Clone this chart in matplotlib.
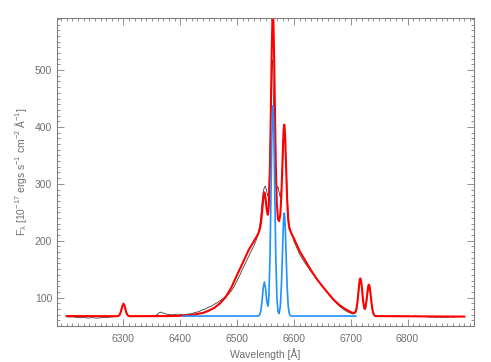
import matplotlib
matplotlib.use("Agg")
import matplotlib.pyplot as plt
from matplotlib.ticker import MultipleLocator

plt.rcParams['font.family'] = ['Liberation Sans', 'DejaVu Sans']
plt.rcParams['mathtext.default'] = 'regular'

# observed spectrum (thin dark line)
gray_wave = (list(range(6200, 6290, 5))
             + [6290, 6293, 6296, 6298, 6300, 6302, 6304, 6306, 6309, 6312]
             + [6315, 6320, 6325, 6330, 6335, 6340, 6345, 6350, 6355, 6360, 6363, 6366,
                6369, 6372, 6375, 6380, 6385, 6390, 6395, 6400, 6405, 6410, 6415, 6420,
                6425, 6430, 6435, 6440, 6445, 6450, 6455, 6460, 6465, 6470, 6475, 6480,
                6485, 6490, 6495, 6500, 6505, 6510, 6515, 6520, 6525, 6530, 6534, 6537]
             + [6540, 6542, 6544, 6546, 6548, 6550, 6552, 6554, 6556, 6558, 6560, 6561,
                6562, 6563, 6564, 6565, 6566, 6568, 6570, 6572, 6574, 6576, 6578, 6580,
                6582, 6583, 6584, 6586, 6588, 6590, 6592, 6594, 6597]
             + [6600, 6605, 6610, 6615, 6620, 6625, 6630, 6635, 6640, 6645, 6650, 6655,
                6660, 6665, 6670, 6675, 6680, 6685, 6690, 6695, 6700, 6704, 6708, 6710,
                6712, 6714, 6716, 6717, 6718, 6720, 6722, 6724, 6726, 6728, 6730, 6732,
                6734, 6736, 6738, 6740, 6743]
             + list(range(6745, 6905, 5)))
gray_flux = ([66.5, 65.8, 66.2, 65.4, 65.0, 64.6, 65.2, 64.3, 64.0, 64.8, 64.2, 63.9,
              64.5, 65.3, 64.7, 65.6, 66.0, 66.4]
             + [67.0, 69.5, 76.5, 84.0, 88.0, 86.0, 78.0, 71.5, 68.0, 66.8]
             + [66.4, 67.2, 66.8, 67.5, 66.9, 67.3, 67.8, 67.2, 68.0, 70.5, 73.5, 74.5,
                73.0, 72.2, 71.0, 70.4, 69.6, 70.2, 69.5, 70.0, 69.8, 70.5, 71.0, 71.8,
                73.5, 74.6, 76.5, 78.8, 80.2, 83.5, 85.0, 88.2, 91.0, 94.5, 98.0, 102.5,
                106.0, 112.0, 120.0, 130.0, 140.0, 151.0, 161.0, 172.0, 182.0, 192.0, 202.0, 212.0]
             + [228, 245, 268, 286, 294, 296, 287, 278, 290, 345, 470, 512,
                518, 495, 440, 380, 330, 300, 292, 295, 285, 276, 292, 338,
                376, 388, 382, 342, 288, 246, 227, 219, 209]
             + [199, 188, 176, 168, 160, 153, 146, 140, 133, 127, 120, 114,
                107, 101, 95, 90, 85, 81, 77.5, 74.5, 72.5, 71.0, 72.5, 77.0,
                90.0, 111.0, 126.0, 129.0, 127.0, 111.0, 91.0, 79.0, 80.0, 93.0, 110.0, 118.0,
                111.0, 94.0, 78.0, 70.0, 67.5]
             + [67.8, 67.2, 68.0, 67.5, 67.9, 67.3, 67.8, 68.1, 67.4, 67.6, 67.0, 67.5,
                66.9, 67.4, 67.8, 67.1, 66.5, 67.0, 66.2, 65.6, 66.0, 65.3, 65.8, 65.1,
                65.7, 65.0, 66.2, 65.5, 66.4, 66.0, 66.8, 66.5])

# total model fit (red)
red_wave = [6200, 6250, 6288, 6290, 6292, 6294, 6296, 6298, 6300, 6302, 6304, 6306,
            6308, 6310, 6312, 6350, 6380, 6400, 6420, 6440, 6450, 6460, 6470, 6480,
            6490, 6500, 6510, 6520, 6530, 6536, 6538, 6540, 6542, 6544, 6546, 6548,
            6550, 6552, 6554, 6555, 6556, 6558, 6560, 6561, 6562, 6563, 6564, 6565,
            6566, 6568, 6570, 6572, 6574, 6576, 6578, 6580, 6581, 6582, 6583, 6584,
            6585, 6586, 6588, 6590, 6592, 6594, 6596, 6600, 6610, 6620, 6630, 6640,
            6650, 6660, 6670, 6680, 6690, 6700, 6704, 6706, 6708, 6710, 6712, 6714,
            6715, 6716, 6717, 6718, 6719, 6720, 6722, 6724, 6725, 6726, 6728, 6730,
            6731, 6732, 6733, 6734, 6736, 6738, 6740, 6742, 6744, 6746, 6800, 6850, 6900]
red_flux = [67.5, 67.4, 67.3, 67.5, 68.3, 71.1, 77.4, 85.4, 89.3, 85.4, 77.4, 71.1,
            68.3, 67.5, 67.3, 67.4, 67.5, 68.0, 69.5, 73.0, 77.0, 82.0, 90.0, 101.0,
            118.0, 140.0, 161.0, 183.0, 200.0, 210.0, 214.5, 220.6, 231.4, 250.5, 273.4, 285.0,
            275.5, 255.5, 245.5, 249.8, 265.5, 338.5, 468.7, 534.5, 582.2, 600.0, 582.2, 534.5,
            468.7, 339.2, 263.9, 237.6, 234.5, 245.7, 281.4, 342.7, 374.0, 396.3, 404.0, 394.3,
            371.0, 337.7, 273.4, 235.6, 221.5, 216.5, 212.0, 204.0, 182.0, 165.0, 148.0, 133.0,
            120.0, 108.0, 96.0, 87.0, 80.0, 74.5, 73.1, 73.0, 74.4, 79.7, 93.7, 114.7,
            124.8, 131.4, 133.7, 130.9, 123.9, 113.8, 92.6, 81.2, 80.4, 83.1, 97.1, 114.7,
            120.7, 122.8, 120.6, 114.4, 96.2, 80.2, 71.5, 68.4, 67.5, 67.4, 67.1, 66.8, 66.6]

# narrow-line component (blue)
blue_wave = [6405, 6536, 6538, 6540, 6542, 6544, 6546, 6548, 6550, 6552, 6554, 6555,
             6556, 6558, 6560, 6561, 6562, 6563, 6564, 6565, 6566, 6568, 6570, 6572,
             6574, 6576, 6578, 6580, 6581, 6582, 6583, 6584, 6585, 6586, 6588, 6590,
             6592, 6594, 6596, 6709]
blue_flux = [67.5, 67.5, 68.0, 70.1, 77.9, 95.0, 116.9, 127.5, 117.0, 96.0, 85.0, 89.3,
             104.0, 177.0, 306.2, 372.0, 419.7, 437.5, 419.7, 372.0, 306.2, 176.7, 101.4, 75.1,
             72.0, 84.2, 120.9, 184.2, 216.5, 239.8, 248.5, 239.8, 216.5, 184.2, 120.9, 84.1,
             71.0, 68.0, 67.5, 67.5]

x_ticks = [6300, 6400, 6500, 6600, 6700, 6800]
y_ticks = [100, 200, 300, 400, 500]

axis_col = '#808080'
text_col = '#707070'

fig = plt.figure(figsize=(4.91, 3.62), dpi=100)
ax = fig.add_axes([0.1161, 0.0994, 0.8493, 0.85])

ax.plot(gray_wave, gray_flux, color='#404040', lw=0.6)
ax.plot(red_wave, red_flux, color='#ff0000', lw=1.5)
ax.plot(blue_wave, blue_flux, color='#1e90ff', lw=1.2)

ax.set_xlim(6183, 6917)
ax.set_ylim(50, 591)
ax.set_xticks(x_ticks)
ax.set_yticks(y_ticks)
ax.xaxis.set_minor_locator(MultipleLocator(10))
ax.yaxis.set_minor_locator(MultipleLocator(10))
ax.tick_params(which='both', direction='in', top=True, right=True,
               color=axis_col, width=0.6, labelcolor=text_col, labelsize=7.5)
ax.tick_params(which='major', length=5)
ax.tick_params(which='minor', length=2.5)
ax.tick_params(axis='x', which='major', pad=6)
for s in ax.spines.values():
    s.set_color(axis_col)
    s.set_linewidth(0.8)

ax.set_xlabel('Wavelength [Å]', color=text_col, fontsize=7.5, labelpad=3)
ax.set_ylabel(r'F$_\lambda$ [10$^{-17}$ ergs s$^{-1}$ cm$^{-2}$ Å$^{-1}$]',
              color=text_col, fontsize=7.5, labelpad=4)

fig.savefig('out.png', dpi=100)
